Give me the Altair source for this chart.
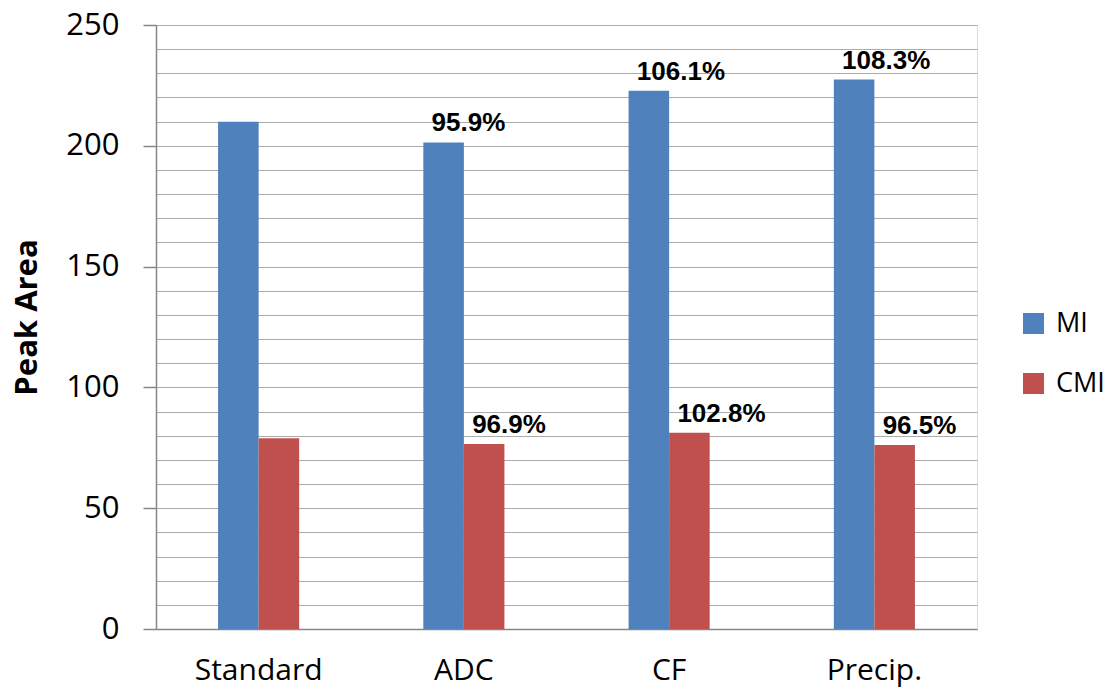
import altair as alt
import pandas as pd

categories = ["Standard", "ADC", "CF", "Precip."]
mi_values = [210.0, 201.4, 222.8, 227.4]
cmi_values = [79.0, 76.6, 81.2, 76.2]
mi_labels = ["", "95.9%", "106.1%", "108.3%"]
cmi_labels = ["", "96.9%", "102.8%", "96.5%"]
series = ["MI", "CMI"]
colors = ["#4F81BD", "#C0504D"]
grid_values = list(range(0, 251, 10))

rows = []
for i, c in enumerate(categories):
    rows.append({"cat": c, "series": "MI", "value": mi_values[i], "label": mi_labels[i]})
    rows.append({"cat": c, "series": "CMI", "value": cmi_values[i], "label": cmi_labels[i]})
df = pd.DataFrame(rows)

FONT = "Open Sans"
W, H = 821, 604

x = alt.X("cat:N", sort=categories,
          scale=alt.Scale(paddingInner=0.605, paddingOuter=0.3025),
          axis=alt.Axis(title=None, labelAngle=0, ticks=False, grid=False,
                        labelFont=FONT, labelFontSize=30, labelColor="#000000",
                        labelPadding=26, domainColor="#868686", domainWidth=1.5))
xo = alt.XOffset("series:N", sort=series, scale=alt.Scale(paddingInner=0, paddingOuter=0))
y = alt.Y("value:Q",
          scale=alt.Scale(domain=[0, 250], nice=False),
          axis=alt.Axis(values=grid_values,
                        labelExpr="datum.value % 50 == 0 ? datum.label : ''",
                        labelOverlap=False, labelFlush=False,
                        tickOpacity=alt.ExprRef("datum.value % 50 == 0 ? 1 : 0"),
                        tickSize=13, tickColor="#868686", tickWidth=1.5,
                        grid=True, gridColor="#ababab", gridWidth=1.2,
                        domainColor="#868686", domainWidth=1.5,
                        labelFont=FONT, labelFontSize=31, labelColor="#000000",
                        labelPadding=24,
                        title="Peak Area", titleFont=FONT, titleFontSize=31,
                        titleFontWeight="bold", titleColor="#000000",
                        titleAngle=-90, titleX=-120, titleY=292,
                        titleBaseline="alphabetic", titleAlign="center"))

color = alt.Color("series:N", sort=series,
                  scale=alt.Scale(domain=series, range=colors),
                  legend=alt.Legend(title=None, orient="none", legendX=864, legendY=285,
                                    symbolType="square", symbolSize=441,
                                    symbolStrokeWidth=0, labelFont=FONT,
                                    labelFontSize=27, labelColor="#000000",
                                    labelOffset=9, rowPadding=32, padding=0))

bars = alt.Chart(df).mark_bar().encode(x=x, xOffset=xo, y=y, color=color)

texts = alt.Chart(df).mark_text(align="left", baseline="alphabetic", dx=-12, dy=-11,
                                font="Liberation Sans", fontSize=26, fontWeight="bold",
                                color="#000000").encode(
    x=x, xOffset=xo, y=y, text="label:N")

chart = alt.layer(bars, texts).properties(
    width=W, height=H,
    autosize=alt.AutoSizeParams(type="none"),
    padding={"left": 148, "top": 17, "right": 127, "bottom": 59},
).configure_view(stroke=None).configure(background="white")

chart.save("out.html", embed_options={"renderer": "svg", "actions": False})
